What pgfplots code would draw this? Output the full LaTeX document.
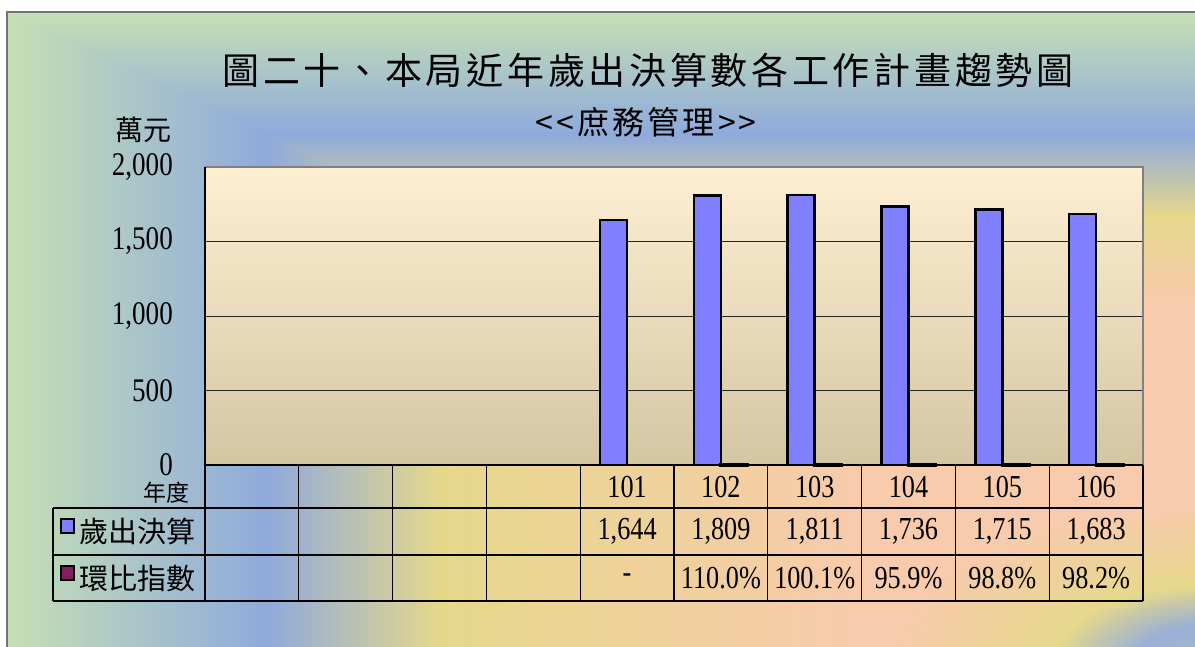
\documentclass[border=0pt]{standalone}
\usepackage{fontspec}
\setmainfont{Liberation Serif}[FakeStretch=0.82]
\newfontfamily\cjk{Noto Sans CJK TC}
\newfontfamily\cjkt{Noto Sans CJK TC}[LetterSpace=10]
\usepackage{pgfplots}
\pgfplotsset{compat=1.18}

\definecolor{bgGreen}{HTML}{C5E0B4}
\definecolor{bgBlue}{HTML}{8FAADC}
\definecolor{bgYellow}{HTML}{E6D88B}
\definecolor{bgPeach}{HTML}{F7CBAB}
\definecolor{bgGrey}{HTML}{A9B9CC}
\definecolor{barBlue}{HTML}{8080FF}
\definecolor{idxPurple}{HTML}{802060}
\definecolor{paneTop}{HTML}{FEEFD3}
\definecolor{paneMid}{HTML}{F1EAD6}
\definecolor{paneBot}{HTML}{D4C6A3}

% corner patch at the lower right
\pgfdeclareradialshading{cornerbg}{\pgfpoint{0bp}{0bp}}{%
  color(0bp)=(bgGrey); color(6bp)=(bgBlue!60!bgGrey); color(12.5bp)=(bgYellow);
  color(25bp)=(bgPeach); color(50bp)=(bgPeach)}

\begin{document}
\begin{tikzpicture}[x=1pt,y=1pt]
\useasboundingbox (0,0) rectangle (1195,646);
\fill[white] (0,0) rectangle (1195,646);
% chart area background
\begin{scope}
  \clip (7,-10) rectangle (1205,634);
  % horizontal part
  \shade[left color=bgGreen, right color=bgBlue] (6,-10) rectangle (267.5,634);
  \shade[left color=bgBlue, right color=bgYellow] (267,-10) rectangle (441.5,634);
  \shade[left color=bgYellow, right color=bgPeach] (441,-10) rectangle (850.5,634);
  \fill[bgPeach] (850,-10) rectangle (1205,634);
  % vertical part, above the diagonals
  \begin{scope}
    \clip (7,634) -- (1205,634) -- (1205,348) -- (876,226) -- cycle;
    \shade[top color=bgGreen, bottom color=bgBlue] (6,634) rectangle (1205,511.5);
    \shade[top color=bgBlue, bottom color=bgYellow] (6,512) rectangle (1205,429.5);
    \shade[top color=bgYellow, bottom color=bgPeach] (6,430) rectangle (1205,347.5);
    \fill[bgPeach] (6,348) rectangle (1205,220);
  \end{scope}
  \shade[shading=cornerbg] (1215,-14) ellipse [x radius=320, y radius=150];
\end{scope}
\draw[black!55, line width=1.5pt] (7,-10) -- (7,634) -- (1205,634);

% titles
\node[font=\cjkt\fontsize{37}{40}\selectfont] at (648,576)
  {圖二十、本局近年歲出決算數各工作計畫趨勢圖};
\node[font=\cjkt\fontsize{32}{36}\selectfont] at (646,524) {<<庶務管理>>};
\node[font=\cjk\fontsize{28}{30}\selectfont] at (143,516) {萬元};

\begin{axis}[
  at={(205pt,181pt)}, anchor=south west,
  scale only axis, width=938pt, height=298pt,
  xmin=-0.5, xmax=9.5, ymin=0, ymax=2000,
  ybar, bar width=27pt,
  clip=false,
  axis line style={draw=none},
  axis background/.style={top color=paneTop, middle color=paneMid, bottom color=paneBot},
  ytick={0,500,1000,1500,2000},
  ymajorgrids, grid style={black!85, line width=0.9pt},
  xtick={0,...,9},
  xticklabels={,,,,101,102,103,104,105,106},
  major tick length=0pt,
  /pgf/number format/assume math mode=true,
  /pgf/number format/1000 sep={,},
  yticklabel style={font=\fontsize{33}{36}\selectfont, anchor=east, inner sep=0pt, xshift=-32pt},
  xticklabel style={font=\fontsize{32}{36}\selectfont, anchor=center, inner sep=0pt, yshift=-22pt},
]
% frame of the plot area
\draw[black!50, line width=2pt] (rel axis cs:0,1) -- (rel axis cs:1,1) -- (rel axis cs:1,0);
\draw[black, line width=1.2pt] (rel axis cs:0,1) -- (rel axis cs:0,0) -- (rel axis cs:1,0);

\addplot[fill=barBlue, draw=black, line width=2.5pt, bar shift=-13.5pt]
  coordinates {(4,1644) (5,1809) (6,1811) (7,1736) (8,1715) (9,1683)};
\addplot[fill=idxPurple, draw=black, line width=3pt, bar shift=13.5pt]
  coordinates {(5,1.100) (6,1.001) (7,0.959) (8,0.988) (9,0.982)};

% data table rows
\begin{scope}[every node/.style={font=\fontsize{32}{36}\selectfont, inner sep=0pt}]
\node at (axis cs:4,-446) {1,644};
\node at (axis cs:5,-446) {1,809};
\node at (axis cs:6,-446) {1,811};
\node at (axis cs:7,-446) {1,736};
\node at (axis cs:8,-446) {1,715};
\node at (axis cs:9,-446) {1,683};
\node at (axis cs:4,-758) {-};
\node at (axis cs:5,-758) {110.0\%};
\node at (axis cs:6,-758) {100.1\%};
\node at (axis cs:7,-758) {95.9\%};
\node at (axis cs:8,-758) {98.8\%};
\node at (axis cs:9,-758) {98.2\%};
\end{scope}
\end{axis}

% table grid
\begin{scope}[line width=1.3pt]
  \foreach \k in {0,...,10} \draw (205+93.8*\k,181) -- (205+93.8*\k,45);
  \draw (53,138) -- (1143,138);
  \draw (53,91) -- (1143,91);
  \draw (53,45) -- (1143,45);
  \draw (53,138) -- (53,45);
\end{scope}
\node[anchor=east, font=\cjk\fontsize{23}{25}\selectfont, inner sep=0pt] at (190,153) {年度};
\draw[fill=barBlue, line width=1.5pt] (61,113) rectangle (74,127);
\draw[fill=idxPurple, line width=1.5pt] (61,66) rectangle (74,80);
\node[anchor=west, font=\cjk\fontsize{29}{30}\selectfont, inner sep=0pt] at (79,114.5) {歲出決算};
\node[anchor=west, font=\cjk\fontsize{29}{30}\selectfont, inner sep=0pt] at (79,68) {環比指數};
\end{tikzpicture}
\end{document}
